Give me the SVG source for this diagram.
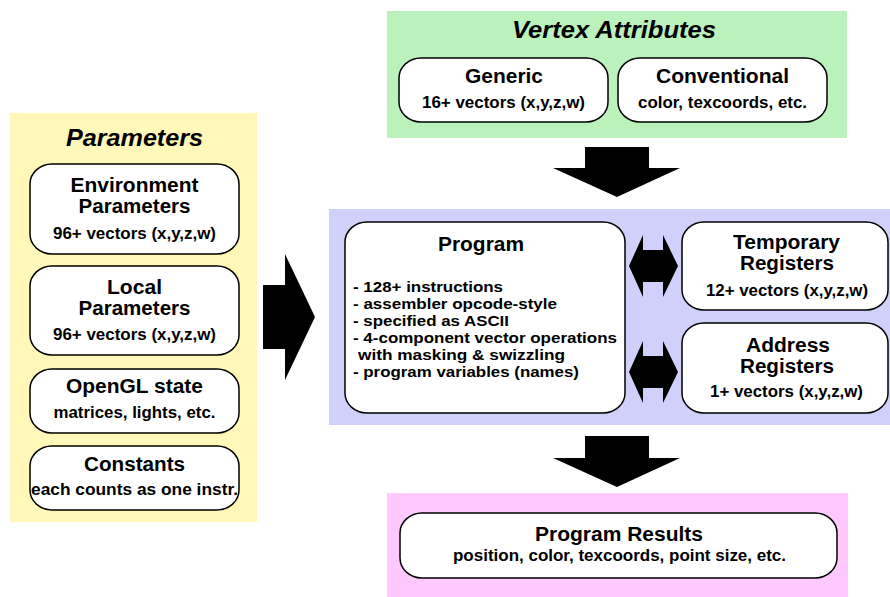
<svg xmlns="http://www.w3.org/2000/svg" width="890" height="597" viewBox="0 0 890 597">
  <style>
    text { font-family: "Liberation Sans", Arial, Helvetica, sans-serif; font-weight: bold; fill: #000; text-anchor: middle; }
    .ptitle { font-size: 23px; font-style: italic; }
    .title { font-size: 19.5px; }
    .sub { font-size: 16px; }
    .list { font-size: 15.5px; text-anchor: start; }
    .box { fill: #fff; stroke: #000; stroke-width: 1.5; }
    .arrow { fill: #000; stroke: none; }
  </style>

  <!-- Panels -->
  <rect id="panel-parameters" x="10" y="113" width="247" height="409" fill="#FFF8B8"/>
  <rect id="panel-attributes" x="387" y="11" width="460" height="127" fill="#BBF2BB"/>
  <rect id="panel-program" x="329" y="209" width="561" height="216" fill="#D0D0FA"/>
  <rect id="panel-results" x="387" y="493" width="461" height="104" fill="#FFC9FF"/>

  <text class="ptitle" x="134.5" y="146" textLength="137" lengthAdjust="spacingAndGlyphs">Parameters</text>
  <text class="ptitle" x="614" y="38" textLength="204" lengthAdjust="spacingAndGlyphs">Vertex Attributes</text>

  <!-- Parameter sources -->
  <g id="env-params">
    <rect class="box" x="30" y="164" width="209" height="90" rx="22" ry="20"/>
    <text class="title" x="134.5" y="192" textLength="128" lengthAdjust="spacingAndGlyphs">Environment</text>
    <text class="title" x="134.5" y="213" textLength="112" lengthAdjust="spacingAndGlyphs">Parameters</text>
    <text class="sub" x="134.5" y="239" textLength="163" lengthAdjust="spacingAndGlyphs">96+ vectors (x,y,z,w)</text>
  </g>
  <g id="local-params">
    <rect class="box" x="30" y="266" width="209" height="89" rx="22" ry="20"/>
    <text class="title" x="134.5" y="294" textLength="55" lengthAdjust="spacingAndGlyphs">Local</text>
    <text class="title" x="134.5" y="315" textLength="112" lengthAdjust="spacingAndGlyphs">Parameters</text>
    <text class="sub" x="134.5" y="340" textLength="163" lengthAdjust="spacingAndGlyphs">96+ vectors (x,y,z,w)</text>
  </g>
  <g id="opengl-state">
    <rect class="box" x="30" y="369" width="209" height="64" rx="22" ry="20"/>
    <text class="title" x="134.5" y="393" textLength="137" lengthAdjust="spacingAndGlyphs">OpenGL state</text>
    <text class="sub" x="134.5" y="418" textLength="162" lengthAdjust="spacingAndGlyphs">matrices, lights, etc.</text>
  </g>
  <g id="constants">
    <rect class="box" x="30" y="446" width="209" height="64" rx="22" ry="20"/>
    <text class="title" x="134.5" y="471" textLength="101" lengthAdjust="spacingAndGlyphs">Constants</text>
    <text class="sub" x="134.5" y="495" textLength="207" lengthAdjust="spacingAndGlyphs">each counts as one instr.</text>
  </g>

  <!-- Vertex attributes -->
  <g id="generic">
    <rect class="box" x="399" y="58" width="209" height="64" rx="22" ry="20"/>
    <text class="title" x="504" y="83" textLength="78" lengthAdjust="spacingAndGlyphs">Generic</text>
    <text class="sub" x="503.5" y="108" textLength="163" lengthAdjust="spacingAndGlyphs">16+ vectors (x,y,z,w)</text>
  </g>
  <g id="conventional">
    <rect class="box" x="618" y="58" width="209" height="64" rx="22" ry="20"/>
    <text class="title" x="722.5" y="83" textLength="133" lengthAdjust="spacingAndGlyphs">Conventional</text>
    <text class="sub" x="722.5" y="108" textLength="169" lengthAdjust="spacingAndGlyphs">color, texcoords, etc.</text>
  </g>

  <!-- Program core -->
  <g id="program">
    <rect class="box" x="345" y="222" width="280" height="191" rx="22" ry="20"/>
    <text class="title" x="481" y="251" textLength="86" lengthAdjust="spacingAndGlyphs">Program</text>
    <text class="list" x="353" y="292" textLength="150" lengthAdjust="spacingAndGlyphs">- 128+ instructions</text>
    <text class="list" x="353" y="309" textLength="204" lengthAdjust="spacingAndGlyphs">- assembler opcode-style</text>
    <text class="list" x="353" y="326" textLength="156" lengthAdjust="spacingAndGlyphs">- specified as ASCII</text>
    <text class="list" x="353" y="343" textLength="264" lengthAdjust="spacingAndGlyphs">- 4-component vector operations</text>
    <text class="list" x="358" y="360" textLength="207" lengthAdjust="spacingAndGlyphs">with masking &amp; swizzling</text>
    <text class="list" x="353" y="377" textLength="226" lengthAdjust="spacingAndGlyphs">- program variables (names)</text>
  </g>
  <g id="temp-registers">
    <rect class="box" x="682" y="222" width="206" height="88" rx="22" ry="20"/>
    <text class="title" x="786.5" y="249" textLength="107" lengthAdjust="spacingAndGlyphs">Temporary</text>
    <text class="title" x="787" y="270" textLength="94" lengthAdjust="spacingAndGlyphs">Registers</text>
    <text class="sub" x="787" y="296" textLength="162" lengthAdjust="spacingAndGlyphs">12+ vectors (x,y,z,w)</text>
  </g>
  <g id="address-registers">
    <rect class="box" x="682" y="323" width="206" height="90" rx="22" ry="20"/>
    <text class="title" x="788" y="352" textLength="84" lengthAdjust="spacingAndGlyphs">Address</text>
    <text class="title" x="787" y="373" textLength="94" lengthAdjust="spacingAndGlyphs">Registers</text>
    <text class="sub" x="786.5" y="397" textLength="153" lengthAdjust="spacingAndGlyphs">1+ vectors (x,y,z,w)</text>
  </g>

  <!-- Output -->
  <g id="program-results">
    <rect class="box" x="400" y="513" width="437" height="65" rx="22" ry="20"/>
    <text class="title" x="619" y="541" textLength="168" lengthAdjust="spacingAndGlyphs">Program Results</text>
    <text class="sub" x="619.5" y="561" textLength="333" lengthAdjust="spacingAndGlyphs">position, color, texcoords, point size, etc.</text>
  </g>

  <!-- Block arrows -->
  <g id="connectors">
    <polygon class="arrow" points="585,147 649,147 649,168 680,168 617,197 553,168 585,168"/>
    <polygon class="arrow" points="263,285 285,285 285,254 315,317 285,380 285,349 263,349"/>
    <polygon class="arrow" points="629,266 643,235 643,250 663,250 663,235 678,266 663,297 663,282 643,282 643,297"/>
    <polygon class="arrow" points="629,372 643,341 643,356 663,356 663,341 678,372 663,403 663,388 643,388 643,403"/>
    <polygon class="arrow" points="585,436 649,436 649,458 680,458 617,487 553,458 585,458"/>
  </g>
</svg>
